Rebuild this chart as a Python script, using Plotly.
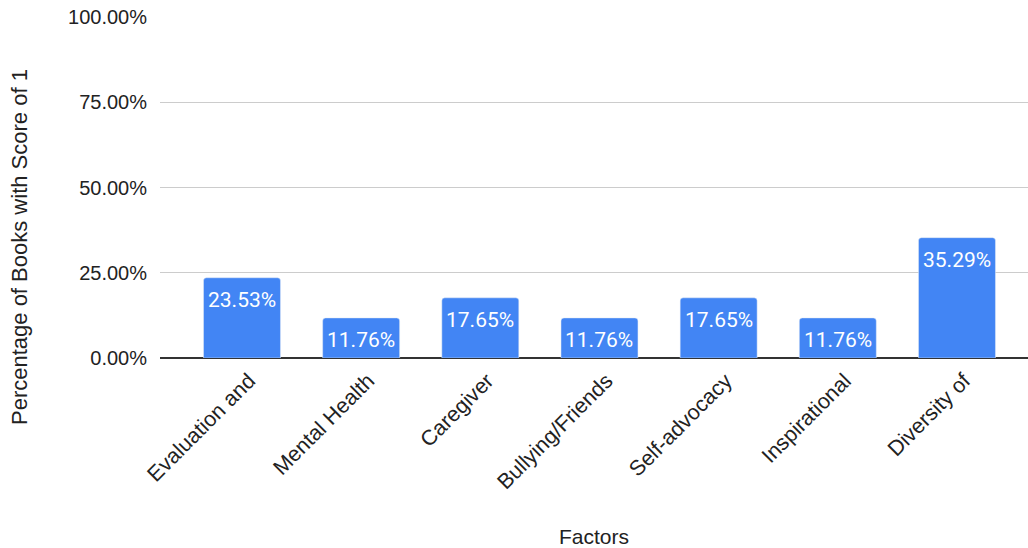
import plotly.graph_objects as go

factors = ["Evaluation and", "Mental Health", "Caregiver", "Bullying/Friends",
           "Self-advocacy", "Inspirational", "Diversity of"]
percentages = [23.53, 11.76, 17.65, 11.76, 17.65, 11.76, 35.29]
y_ticks = [0, 25, 50, 75, 100]
y_tick_labels = ["0.00%", "25.00%", "50.00%", "75.00%", "100.00%"]

TEXT = "#222222"

fig = go.Figure(go.Bar(
    x=factors,
    y=percentages,
    marker=dict(color="#4285F4", cornerradius=3),
    hoverinfo="x+y",
))

# value labels sit just inside the top of each bar
for f, v in zip(factors, percentages):
    fig.add_annotation(
        x=f, y=v, text=f"{v:.2f}%", showarrow=False,
        yanchor="top", yshift=-8,
        font=dict(family="Roboto", size=21, color="white"),
    )

# vertical axis title, centred on the full chart height
fig.add_annotation(
    text="Percentage of Books with Score of 1",
    xref="paper", yref="paper",
    x=(19 - 160) / 868, y=(358 - 247) / 341,
    xanchor="center", yanchor="middle",
    textangle=-90, showarrow=False,
    font=dict(family="Liberation Sans, Arial", size=22, color=TEXT),
)

fig.update_layout(
    width=1028, height=548,
    margin=dict(l=160, r=0, t=17, b=190),
    paper_bgcolor="white", plot_bgcolor="white",
    bargap=0.354,
    showlegend=False,
    font=dict(family="Liberation Sans, Arial", size=20, color=TEXT),
)

fig.update_xaxes(
    type="category",
    range=[-0.688, 6.596],
    automargin=False,
    tickangle=-45,
    tickfont=dict(size=21.5, color=TEXT),
    showgrid=False,
    title=dict(text="Factors", font=dict(size=21, color=TEXT), standoff=40),
    showline=False,
    ticks="",
    ticklabelstandoff=5,
    ticklabelshift=7,
)

fig.update_yaxes(
    range=[0, 100],
    automargin=False,
    tickvals=y_ticks,
    ticktext=y_tick_labels,
    tickfont=dict(size=20, color=TEXT),
    showgrid=True, gridcolor="#cccccc", gridwidth=1,
    zeroline=True, zerolinecolor="#333333", zerolinewidth=2,
    ticks="", ticklen=0,
    ticklabelstandoff=12,
)

fig.write_html("out.html")
